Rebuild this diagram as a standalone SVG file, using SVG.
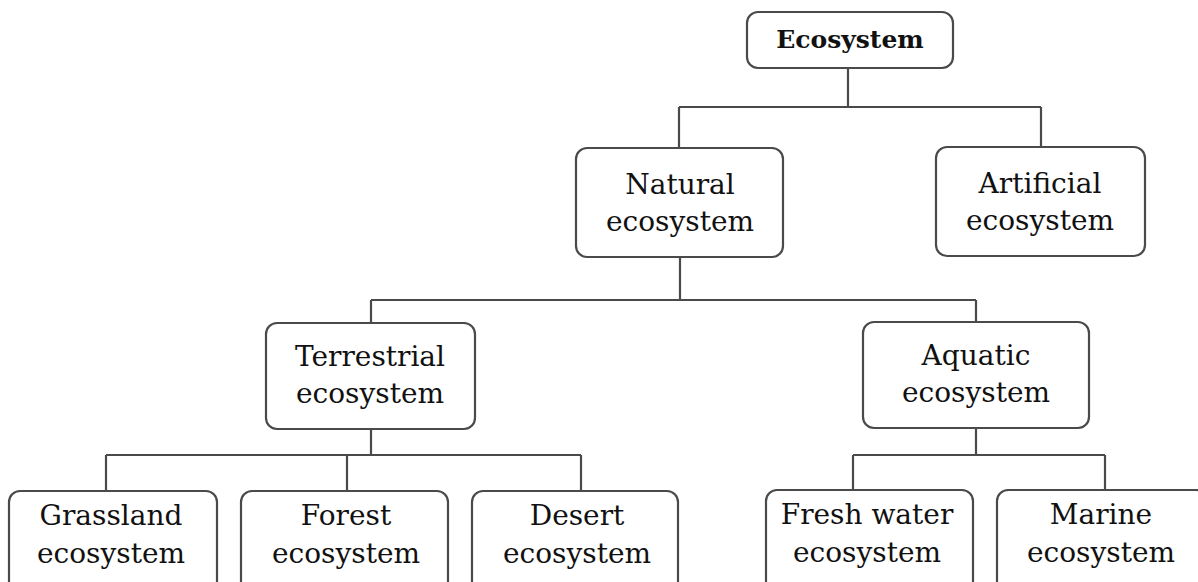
<svg xmlns="http://www.w3.org/2000/svg" width="1198" height="582" viewBox="0 0 1198 582">
<style>
.box{fill:#fff;stroke:#4a4a4a;stroke-width:2.2}
.ln{fill:none;stroke:#4a4a4a;stroke-width:2.2}
.t{font-family:"DejaVu Serif","Liberation Serif",serif;font-size:28px;fill:#111;text-anchor:middle}
.b{font-weight:bold;font-size:25px}
</style>
<rect width="1198" height="582" fill="#fff"/>
<g id="connectors">
<path class="ln" d="M848 68V107M679 107H1041M679 107V148M1041 107V147"/>
<path class="ln" d="M680 257V300M371 300H976M371 300V323M976 300V322"/>
<path class="ln" d="M371 429V455M106 455H581M106 455V491M347 455V491M581 455V491"/>
<path class="ln" d="M976 428V455M853 455H1105M853 455V490M1105 455V490"/>
</g>
<g id="ecosystem"><rect class="box" x="747" y="12" width="206" height="56" rx="11"/><text class="t b" x="850" y="48">Ecosystem</text></g>
<g id="natural"><rect class="box" x="576" y="148" width="207" height="109" rx="11"/><text class="t" x="680" y="194">Natural</text><text class="t" x="680" y="231">ecosystem</text></g>
<g id="artificial"><rect class="box" x="936" y="147" width="209" height="109" rx="11"/><text class="t" x="1040" y="193">Artificial</text><text class="t" x="1040" y="230">ecosystem</text></g>
<g id="terrestrial"><rect class="box" x="266" y="323" width="209" height="106" rx="11"/><text class="t" x="370" y="366">Terrestrial</text><text class="t" x="370" y="403">ecosystem</text></g>
<g id="aquatic"><rect class="box" x="863" y="322" width="226" height="106" rx="11"/><text class="t" x="976" y="365">Aquatic</text><text class="t" x="976" y="402">ecosystem</text></g>
<g id="grassland"><rect class="box" x="9" y="491" width="208" height="110" rx="11"/><text class="t" x="111" y="525">Grassland</text><text class="t" x="111" y="563">ecosystem</text></g>
<g id="forest"><rect class="box" x="241" y="491" width="207" height="110" rx="11"/><text class="t" x="346" y="525">Forest</text><text class="t" x="346" y="563">ecosystem</text></g>
<g id="desert"><rect class="box" x="472" y="491" width="206" height="110" rx="11"/><text class="t" x="577" y="525">Desert</text><text class="t" x="577" y="563">ecosystem</text></g>
<g id="freshwater"><rect class="box" x="766" y="490" width="207" height="110" rx="11"/><text class="t" x="867" y="524">Fresh water</text><text class="t" x="867" y="562">ecosystem</text></g>
<g id="marine"><rect class="box" x="997" y="490" width="210" height="110" rx="11"/><text class="t" x="1101" y="524">Marine</text><text class="t" x="1101" y="562">ecosystem</text></g>
</svg>
